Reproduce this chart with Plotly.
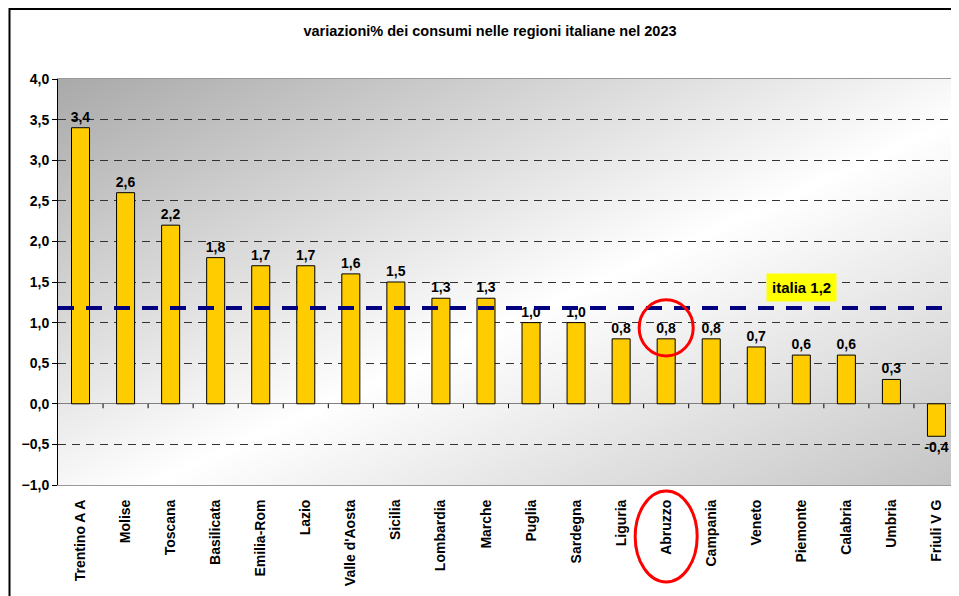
import urllib.parse
import plotly.graph_objects as go

# ---- data ----
regions = ["Trentino A A", "Molise", "Toscana", "Basilicata", "Emilia-Rom", "Lazio",
           "Valle d'Aosta", "Sicilia", "Lombardia", "Marche", "Puglia", "Sardegna",
           "Liguria", "Abruzzo", "Campania", "Veneto", "Piemonte", "Calabria",
           "Umbria", "Friuli V G"]
variazioni = [3.4, 2.6, 2.2, 1.8, 1.7, 1.7, 1.6, 1.5, 1.3, 1.3, 1.0, 1.0,
              0.8, 0.8, 0.8, 0.7, 0.6, 0.6, 0.3, -0.4]
italia_value = 1.18
italia_label = "italia 1,2"
highlight = "Abruzzo"
title_text = "variazioni% dei consumi nelle regioni italiane nel 2023"

# the page body has an 8px margin, so the figure starts at (8, 8) of the window
OFF = 8
W, H = 959 - OFF, 596 - OFF
L, R, T, B = 58 - OFF, 0, 79 - OFF, 111
plot_w = W - L - R
plot_h = H - T - B

FONT = "Liberation Sans, Arial, sans-serif"

fig = go.Figure()
fig.add_trace(go.Bar(
    x=regions, y=variazioni,
    marker=dict(color="#FFCC00", line=dict(color="#000000", width=1)),
    width=0.4,
    texttemplate="%{y:.1f}", textposition="outside", cliponaxis=False,
    constraintext="none",
    textfont=dict(family=FONT, size=14, color="#000000", weight="bold"),
    hoverinfo="skip", showlegend=False,
))

svg = ('<svg xmlns="http://www.w3.org/2000/svg" width="100" height="100" viewBox="0 0 100 100" '
       'preserveAspectRatio="none"><defs><linearGradient id="g" x1="0" y1="0" x2="1" y2="1">'
       '<stop offset="0" stop-color="#a9a9a9"/><stop offset="0.55" stop-color="#ffffff"/>'
       '<stop offset="1" stop-color="#c4c4c4"/></linearGradient></defs>'
       '<rect width="100" height="100" fill="url(#g)"/></svg>')
bg_uri = "data:image/svg+xml;charset=utf-8," + urllib.parse.quote(svg)

shapes = []
# italia reference line
shapes.append(dict(type="line", xref="paper", yref="y", x0=0, x1=1, y0=italia_value, y1=italia_value,
                   line=dict(color="#000080", width=4, dash="16px,12px"), layer="above"))
# small ticks at zero line between categories
n = len(regions)
for i in range(n - 1):
    xp = (i + 1) / n
    shapes.append(dict(type="line", xref="paper", yref="y", x0=xp, x1=xp, y0=0, y1=-0.055,
                       line=dict(color="#000000", width=1)))
# red highlight circles
hi = regions.index(highlight)
hv = variazioni[hi]
shapes.append(dict(type="circle", xref="x", yref="y", x0=hi - 0.6, x1=hi + 0.6,
                   y0=hv - 0.21, y1=hv + 0.48, line=dict(color="#FF0000", width=3)))
xc = (hi + 0.5) / n
shapes.append(dict(type="circle", xref="paper", yref="paper",
                   x0=xc - 31 / plot_w, x1=xc + 31 / plot_w,
                   y0=-97 / plot_h, y1=-6 / plot_h,
                   line=dict(color="#FF0000", width=3)))
# outer frame
shapes.append(dict(type="rect", xref="paper", yref="paper",
                   x0=(1.5 - L) / plot_w, x1=1.2, y0=-(B + 20) / plot_h,
                   y1=1 + (T - 1) / plot_h, line=dict(color="#000000", width=2)))

fig.update_layout(
    width=W, height=H,
    margin=dict(l=L, r=R, t=T, b=B, pad=0, autoexpand=False),
    paper_bgcolor="#ffffff", plot_bgcolor="rgba(0,0,0,0)",
    separators=",.",
    font=dict(family=FONT, color="#000000"),
    title=dict(text=title_text, x=(490 - OFF) / W, xanchor="center", xref="container",
               y=1 - (31 - OFF) / H, yanchor="middle", yref="container",
               font=dict(family=FONT, size=14.5, color="#000000", weight="bold")),
    bargap=0.6,
    images=[dict(source=bg_uri, xref="paper", yref="paper", x=0, y=1, sizex=1, sizey=1,
                 xanchor="left", yanchor="top", sizing="stretch", layer="below")],
    shapes=shapes,
    annotations=[dict(x=regions.index("Piemonte"), y=1.43, xref="x", yref="y",
                      text=italia_label, showarrow=False, bgcolor="#FFFF00", borderpad=5,
                      font=dict(family=FONT, size=15, color="#000000", weight="bold"))],
)
fig.update_xaxes(
    type="category", range=[-0.5, n - 0.5], automargin=False,
    tickangle=-90, ticks="", ticklabelstandoff=8,
    tickfont=dict(family=FONT, size=14, color="#000000", weight="bold"),
    showgrid=False, showline=True, linecolor="#9a9a9a", linewidth=1, mirror=True,
)
fig.update_yaxes(
    range=[-1, 4], dtick=0.5, tick0=0, tickformat=".1f", automargin=False,
    ticks="outside", ticklen=5, tickcolor="#000000",
    tickfont=dict(family=FONT, size=14, color="#000000", weight="bold"),
    showgrid=True, gridcolor="#333333", gridwidth=1, griddash="8px,6px",
    zeroline=True, zerolinecolor="#808080", zerolinewidth=1,
    showline=True, linecolor="#000000", linewidth=1,
)

fig.write_html("out.html")
